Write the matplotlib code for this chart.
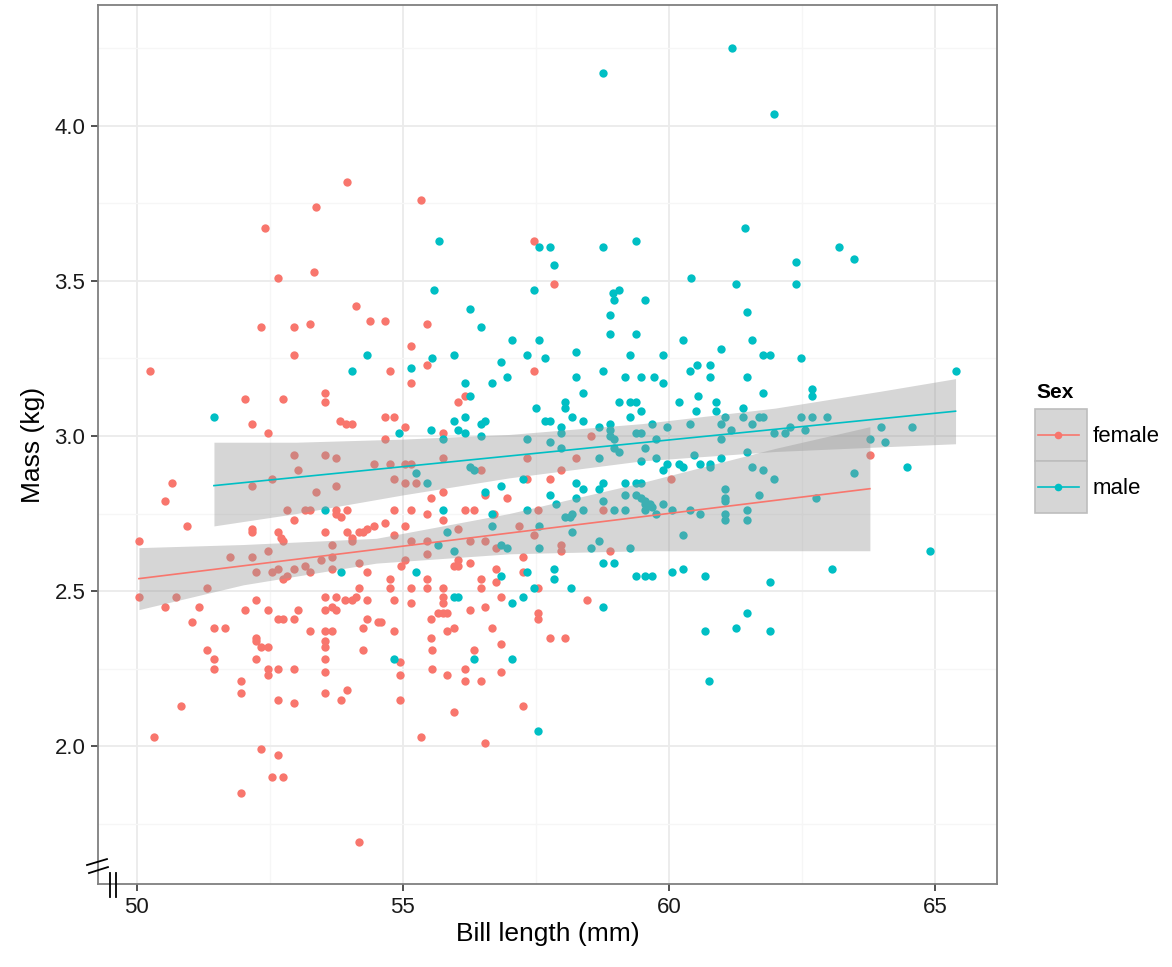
import numpy as np
import matplotlib.pyplot as plt
from matplotlib.patches import Rectangle

plt.rcParams['font.family'] = ['Liberation Sans', 'DejaVu Sans']

female_x = [53.95, 53.36, 52.41, 52.65, 53.33, 54.12, 54.38, 54.66, 52.33, 52.95, 53.25, 52.95, 50.24, 54.76, 52.03, 52.74, 53.53, 53.53,
            55.34, 57.46, 57.84, 55.45, 55.15, 55.45, 55.15, 57.46, 56.17, 56.03,
            52.16, 52.46, 53.82, 53.93, 54.04, 54.66, 54.83, 52.95, 53.53, 53.74, 54.45, 54.76, 54.66, 54.83, 53.03, 52.54, 52.16, 53.74, 53.36, 50.66, 50.53, 50.94,
            50.04, 52.82, 53.16, 53.25, 53.74, 53.74, 53.83, 53.95, 52.95, 54.83, 52.16, 52.16, 52.65, 52.71, 52.74, 53.53, 53.67, 53.95, 54.04, 54.04,
            54.17, 54.25, 54.32, 54.45, 54.66, 54.83, 51.75, 52.16, 52.46, 53.46, 53.67, 54.17, 52.24, 52.54, 52.65, 52.74, 52.82, 52.95, 53.16, 53.25,
            53.67, 54.32, 54.76, 50.04, 50.53, 50.73, 51.32, 51.17, 51.03, 51.45, 51.65, 52.03, 52.24, 52.46, 52.65, 52.74, 52.95, 53.03, 53.25, 53.53,
            53.74, 53.53, 53.67, 53.74, 53.53, 53.67, 53.91, 54.04, 54.17, 54.12, 54.32, 54.25, 54.32, 54.53, 54.59, 54.76, 54.83, 54.83, 52.24, 52.24,
            52.33, 52.46, 51.32, 53.53, 53.53, 54.25,
            51.45, 51.45, 52.24, 52.46, 52.46, 52.65, 52.95, 53.53, 53.53, 51.95, 51.95, 52.65, 52.95, 53.53, 53.95, 53.83, 50.83, 50.32, 52.33, 52.65,
            52.54, 52.74, 51.95, 54.17, 54.94, 54.94, 54.94,
            55.04, 55.75, 58.53, 55.75, 58.25, 57.33, 55.04, 55.15, 55.04, 55.24, 56.47, 57.33, 57.76, 57.97, 60.04, 55.53, 55.75, 56.54, 56.95, 55.15,
            55.45, 55.75, 56.17, 56.33, 56.71, 57.54, 58.76, 55.04, 56.03, 57.18, 57.46, 55.15, 55.45, 55.45, 56.26, 56.54, 56.75, 57.97, 57.97, 58.89,
            55.04, 54.96, 56.03, 55.96, 56.03, 56.26, 56.75, 57.26, 57.26, 57.54, 55.45, 55.45, 55.15, 55.75, 55.75, 55.75, 56.47, 56.47, 56.75, 56.84,
            58.46, 55.15, 55.66, 55.75, 55.83, 56.26, 56.54, 55.53, 57.54, 57.54, 55.83, 55.96, 56.67, 57.76, 58.05, 55.53, 56.84,
            55.55, 56.33, 55.55, 55.83, 56.17, 56.17, 56.47, 56.84, 55.96, 57.26, 55.34, 56.54, 63.78]
female_y = [3.82, 3.74, 3.67, 3.51, 3.53, 3.42, 3.37, 3.37, 3.35, 3.35, 3.36, 3.26, 3.21, 3.21, 3.12, 3.12, 3.14, 3.11,
            3.76, 3.63, 3.49, 3.36, 3.29, 3.23, 3.17, 3.21, 3.13, 3.11,
            3.04, 3.01, 3.05, 3.04, 3.04, 3.06, 3.06, 2.94, 2.94, 2.93, 2.91, 2.91, 2.99, 2.86, 2.89, 2.86, 2.84, 2.84, 2.82, 2.85, 2.79, 2.71,
            2.66, 2.76, 2.76, 2.76, 2.76, 2.75, 2.74, 2.76, 2.73, 2.76, 2.70, 2.69, 2.69, 2.67, 2.66, 2.69, 2.65, 2.69, 2.67, 2.66,
            2.69, 2.69, 2.70, 2.71, 2.72, 2.68, 2.61, 2.61, 2.63, 2.60, 2.61, 2.59, 2.56, 2.56, 2.57, 2.54, 2.55, 2.57, 2.58, 2.56,
            2.57, 2.56, 2.54, 2.48, 2.45, 2.48, 2.51, 2.45, 2.40, 2.38, 2.38, 2.44, 2.47, 2.44, 2.41, 2.41, 2.41, 2.44, 2.37, 2.48,
            2.48, 2.44, 2.45, 2.44, 2.37, 2.37, 2.47, 2.47, 2.51, 2.48, 2.47, 2.38, 2.41, 2.40, 2.40, 2.51, 2.47, 2.37, 2.35, 2.34,
            2.32, 2.32, 2.31, 2.34, 2.32, 2.31,
            2.28, 2.25, 2.28, 2.25, 2.23, 2.25, 2.25, 2.28, 2.24, 2.21, 2.17, 2.15, 2.14, 2.17, 2.18, 2.15, 2.13, 2.03, 1.99, 1.97,
            1.90, 1.90, 1.85, 1.69, 2.27, 2.23, 2.15,
            3.03, 3.01, 3.00, 2.93, 2.93, 2.93, 2.91, 2.91, 2.85, 2.85, 2.89, 2.86, 2.86, 2.89, 2.86, 2.80, 2.82, 2.81, 2.80, 2.76,
            2.75, 2.73, 2.76, 2.76, 2.75, 2.76, 2.76, 2.71, 2.70, 2.71, 2.68, 2.66, 2.66, 2.62, 2.66, 2.66, 2.64, 2.65, 2.63, 2.63,
            2.60, 2.58, 2.60, 2.58, 2.58, 2.59, 2.57, 2.61, 2.56, 2.51, 2.54, 2.51, 2.51, 2.51, 2.48, 2.46, 2.54, 2.51, 2.53, 2.48,
            2.47, 2.46, 2.43, 2.43, 2.43, 2.44, 2.45, 2.41, 2.43, 2.41, 2.37, 2.38, 2.38, 2.35, 2.35, 2.35, 2.33,
            2.31, 2.31, 2.25, 2.23, 2.25, 2.21, 2.21, 2.24, 2.11, 2.13, 2.03, 2.01, 2.94]

male_x = [58.76, 61.18, 61.97,
          55.68, 57.56, 57.76, 57.84, 58.76, 59.38, 60.41, 55.58, 56.26, 56.47, 57.05, 57.56, 58.89, 58.89, 58.95, 59.06, 58.97, 59.55, 59.38, 60.26, 57.46,
          55.15, 55.55, 55.96, 56.84, 56.95, 56.17, 56.67, 57.33, 57.67, 58.25, 58.25, 58.38, 58.76, 59.27, 59.17, 59.47, 59.72, 59.89, 59.89, 60.39, 60.53, 60.55, 56.26,
          61.43, 63.20, 63.48, 62.39, 61.26, 62.39, 61.47, 61.56, 60.98, 61.77, 61.90, 62.48, 60.77, 60.77, 61.47, 61.77, 62.69, 62.69, 65.39,
          51.45, 54.32, 54.04, 53.53, 53.83, 54.92, 54.83,
          57.50, 58.05, 58.05, 58.18, 58.38, 58.68, 58.89, 58.89, 59.06, 59.27, 59.38, 59.47, 59.27, 59.68, 59.96, 60.19, 60.39, 60.51,
          55.96, 56.17, 56.47, 56.54, 56.03, 56.17, 56.47, 55.53, 57.67, 57.76, 57.97, 57.97,
          55.75, 57.33, 57.76, 57.97, 58.89, 58.97, 58.97, 59.06, 59.38, 59.47, 59.55, 59.76,
          55.24, 55.45, 56.26, 56.33, 58.68, 59.47, 59.76, 59.89, 59.96, 60.19, 60.26, 60.47,
          57.26, 58.25, 58.38, 56.84, 56.54, 57.76, 58.25, 58.68, 58.76, 59.17, 59.38, 59.47, 59.17, 59.38, 59.47, 59.55, 58.76, 59.55, 59.64, 59.68, 59.89,
          55.75, 56.67, 57.33, 57.88, 58.38, 58.97, 59.17, 59.55, 59.76, 60.06, 60.39,
          56.67, 55.83, 58.05, 58.14, 58.18, 57.56, 58.18,
          55.66, 55.96, 56.84, 56.95, 57.56, 58.53, 58.68, 59.27, 60.26,
          58.76, 58.97, 57.84, 57.84, 56.84, 57.33, 55.24, 59.38, 59.55, 59.68, 60.06, 60.26,
          55.96, 56.03, 57.46, 58.16, 57.26, 57.05, 58.76,
          56.33, 57.05, 57.54,
          60.88, 60.88, 61.39, 61.39, 61.05, 60.98, 61.56, 61.69, 61.77, 61.17, 60.98, 61.97, 62.18, 62.27, 62.48, 62.69, 62.56, 62.97, 63.98, 64.57, 63.78, 64.06,
          61.47, 60.98, 60.58, 60.77, 60.77, 61.56, 61.77, 61.97, 64.47, 63.48,
          61.05, 61.05, 61.05, 61.05, 61.05, 61.47, 61.47, 61.69, 62.76, 60.58,
          64.91, 63.06, 60.68, 61.90, 61.47, 61.26, 60.68, 61.90, 60.75]
male_y = [4.17, 4.25, 4.04,
          3.63, 3.61, 3.61, 3.55, 3.61, 3.63, 3.51, 3.47, 3.41, 3.35, 3.31, 3.31, 3.39, 3.33, 3.46, 3.47, 3.44, 3.44, 3.33, 3.31, 3.47,
          3.22, 3.25, 3.26, 3.24, 3.19, 3.17, 3.17, 3.26, 3.25, 3.27, 3.19, 3.14, 3.21, 3.26, 3.19, 3.19, 3.19, 3.26, 3.17, 3.21, 3.23, 3.13, 3.13,
          3.67, 3.61, 3.57, 3.56, 3.49, 3.49, 3.40, 3.31, 3.28, 3.26, 3.26, 3.25, 3.23, 3.19, 3.19, 3.14, 3.15, 3.13, 3.21,
          3.06, 3.26, 3.21, 2.76, 2.56, 3.01, 2.28,
          3.09, 3.11, 3.09, 3.06, 3.05, 3.03, 3.04, 3.02, 3.11, 3.11, 3.11, 3.08, 3.06, 3.04, 3.03, 3.11, 3.04, 3.08,
          3.05, 3.06, 3.04, 3.05, 3.02, 3.01, 3.00, 3.02, 3.05, 3.05, 3.03, 3.01,
          2.99, 2.99, 2.98, 2.96, 3.00, 2.99, 2.96, 2.95, 3.01, 3.01, 2.96, 2.99,
          2.88, 2.85, 2.90, 2.89, 2.93, 2.92, 2.93, 2.89, 2.91, 2.91, 2.90, 2.94,
          2.86, 2.85, 2.83, 2.84, 2.82, 2.81, 2.80, 2.83, 2.85, 2.85, 2.85, 2.85, 2.81, 2.81, 2.80, 2.79, 2.79, 2.78, 2.78, 2.77, 2.78,
          2.76, 2.75, 2.76, 2.78, 2.76, 2.76, 2.76, 2.76, 2.75, 2.76, 2.76,
          2.71, 2.69, 2.74, 2.74, 2.75, 2.71, 2.69,
          2.65, 2.63, 2.65, 2.64, 2.64, 2.64, 2.66, 2.64, 2.68,
          2.59, 2.59, 2.57, 2.54, 2.55, 2.56, 2.56, 2.55, 2.55, 2.55, 2.56, 2.57,
          2.48, 2.48, 2.51, 2.51, 2.48, 2.46, 2.45,
          2.28, 2.28, 2.05,
          3.11, 3.08, 3.09, 3.06, 3.06, 3.04, 3.04, 3.06, 3.06, 3.02, 2.99, 3.01, 3.01, 3.03, 3.06, 3.06, 3.02, 3.06, 3.03, 3.03, 2.99, 2.98,
          2.95, 2.93, 2.91, 2.91, 2.90, 2.90, 2.89, 2.86, 2.90, 2.88,
          2.83, 2.80, 2.79, 2.75, 2.73, 2.76, 2.73, 2.81, 2.80, 2.75,
          2.63, 2.57, 2.55, 2.53, 2.43, 2.38, 2.37, 2.37, 2.21]

# fitted lines and confidence bands
female_band_x = [50.04, 52.0, 54.5, 57.0, 59.5, 62.0, 63.78]
female_band_lo = [2.44, 2.52, 2.59, 2.62, 2.63, 2.63, 2.63]
female_band_hi = [2.64, 2.65, 2.67, 2.75, 2.85, 2.96, 3.03]
female_line_x = [50.04, 63.78]
female_line_y = [2.54, 2.83]

male_band_x = [51.45, 53.0, 55.0, 57.0, 59.5, 62.0, 64.0, 65.39]
male_band_lo = [2.71, 2.75, 2.81, 2.865, 2.92, 2.95, 2.965, 2.975]
male_band_hi = [2.98, 2.98, 2.99, 3.005, 3.04, 3.09, 3.145, 3.185]
male_line_x = [51.45, 65.39]
male_line_y = [2.84, 3.08]

x_ticks = [50, 55, 60, 65]
y_ticks = [2.0, 2.5, 3.0, 3.5, 4.0]
x_minor = [52.5, 57.5, 62.5]
y_minor = [1.75, 2.25, 2.75, 3.25, 3.75, 4.25]

red = '#F8766D'
teal = '#00BFC4'

fig = plt.figure(figsize=(11.72, 9.67), dpi=100)
ax = fig.add_axes([0.0836, 0.0858, 0.7671, 0.909])

ax.scatter(female_x, female_y, s=36, color=red, linewidths=0, zorder=2)
ax.scatter(male_x, male_y, s=36, color=teal, linewidths=0, zorder=2)

ax.fill_between(female_band_x, female_band_lo, female_band_hi, color='#999999', alpha=0.4, linewidth=0, zorder=3)
ax.plot(female_line_x, female_line_y, color=red, lw=1.2, zorder=4)
ax.fill_between(male_band_x, male_band_lo, male_band_hi, color='#999999', alpha=0.4, linewidth=0, zorder=3)
ax.plot(male_line_x, male_line_y, color=teal, lw=1.2, zorder=4)

ax.set_xticks(x_ticks)
ax.set_yticks(y_ticks)
ax.set_xticks(x_minor, minor=True)
ax.set_yticks(y_minor, minor=True)
ax.set_yticklabels(['%.1f' % v for v in y_ticks])
ax.set_xlim(49.27, 66.17)
ax.set_ylim(1.555, 4.39)
ax.grid(which='major', color='#EBEBEB', lw=1.3)
ax.grid(which='minor', color='#F6F6F6', lw=1.0)
ax.set_axisbelow(True)
ax.tick_params(which='major', length=5, width=1.2, color='#333333', labelsize=16, labelcolor='#1A1A1A', pad=4)
ax.tick_params(which='minor', length=0)
for sp in ax.spines.values():
    sp.set_color('#7F7F7F')
    sp.set_linewidth(1.3)

ax.set_xlabel('Bill length (mm)', fontsize=19, labelpad=3)
ax.set_ylabel('Mass (kg)', fontsize=19, labelpad=7)

# axis break marks
ax.plot([-0.0122, 0.010], [0.0216, 0.0284], transform=ax.transAxes, color='black', lw=1.3, clip_on=False, zorder=6)
ax.plot([-0.010, 0.0111], [0.0125, 0.0193], transform=ax.transAxes, color='black', lw=1.3, clip_on=False, zorder=6)
ax.plot([0.0134, 0.0134], [0.0125, -0.0148], transform=ax.transAxes, color='black', lw=1.3, clip_on=False, zorder=6)
ax.plot([0.0200, 0.0200], [0.0125, -0.0148], transform=ax.transAxes, color='black', lw=1.3, clip_on=False, zorder=6)

# legend
lg = fig.add_axes([0, 0, 1, 1], facecolor='none')
lg.set_xlim(0, 1172)
lg.set_ylim(967, 0)
lg.axis('off')
lg.text(1036, 392, 'Sex', fontsize=15, fontweight='bold', va='center', ha='left')
for i, (lab, col) in enumerate([('female', red), ('male', teal)]):
    y0 = 409 + i * 52
    lg.add_patch(Rectangle((1035, y0), 52, 52, facecolor='#D6D6D6', edgecolor='#BDBDBD', lw=1.2))
    lg.plot([1038, 1079], [y0 + 26, y0 + 26], color=col, lw=1.2)
    lg.plot([1058], [y0 + 26], 'o', color=col, ms=5.5, mew=0)
    lg.text(1093, y0 + 27, lab, fontsize=16, va='center', ha='left')

fig.savefig('out.png', dpi=100)
